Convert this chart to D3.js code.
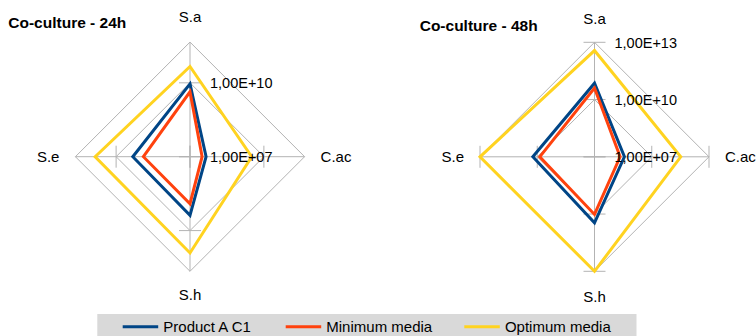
<!DOCTYPE html>
<html>
<head>
<meta charset="utf-8">
<script src="https://cdn.jsdelivr.net/npm/d3@7"></script>
<style>
  html, body { margin: 0; padding: 0; background: #fff; }
  svg { display: block; font-family: "Liberation Sans", Arial, sans-serif; }
</style>
</head>
<body>
<svg id="chart" width="756" height="336"></svg>
<script>
// ---- data ----
const axesNames = ["S.a", "C.ac", "S.h", "S.e"];
const seriesNames = ["Product A C1", "Minimum media", "Optimum media"];
const seriesColors = ["#004586", "#ff420e", "#ffd320"];

// Co-culture - 24h (values per axis: S.a, C.ac, S.h, S.e)
const product24 = [9.0e9, 4.5e7, 2.4e9, 2.1e9];
const minimum24 = [4.3e9, 3.1e7, 8.1e8, 7.8e8];
const optimum24 = [4.6e10, 3.2e9, 8.1e10, 7.1e10];
const ticks24 = [1e7, 1e10];
const tickLabels24 = ["1,00E+07", "1,00E+10"];
const max24 = 4.5e11;

// Co-culture - 48h
const product48 = [7.2e10, 3.7e8, 2.9e10, 1.7e10];
const minimum48 = [4.0e10, 2.2e8, 1.05e10, 7.4e9];
const optimum48 = [3.7e12, 3.3e11, 1.0e13, 1.0e13];
const ticks48 = [1e7, 1e10, 1e13];
const tickLabels48 = ["1,00E+07", "1,00E+10", "1,00E+13"];
const max48 = 1e13;

// ---- drawing ----
const svg = d3.select("#chart");
const GRID = "#b3b3b3";

function radar(opts) {
  const { cx, cy, R, title, titleX, titleY, series, ticks, tickLabels, max, topGap, bottomGap } = opts;
  const g = svg.append("g");
  const r = d3.scaleLog().domain([ticks[0], max]).range([0, R]).clamp(true);
  const angle = d3.scalePoint().domain(axesNames).range([0, 2 * Math.PI * 3 / 4]);
  const pt = (name, v) => {
    const a = angle(name);
    const rr = r(v);
    return [cx + rr * Math.sin(a), cy - rr * Math.cos(a)];
  };

  // spokes
  axesNames.forEach(n => {
    const [x, y] = pt(n, max);
    g.append("line").attr("x1", cx).attr("y1", cy).attr("x2", x).attr("y2", y)
      .attr("stroke", GRID).attr("stroke-width", 1);
  });
  // rings
  const ringVals = ticks.slice(1).concat(ticks[ticks.length - 1] < max ? [max] : []);
  ringVals.forEach(v => {
    const pts = axesNames.map(n => pt(n, v));
    g.append("path").attr("d", d3.line()(pts) + "Z")
      .attr("fill", "none").attr("stroke", GRID).attr("stroke-width", 1);
  });
  // cross tick marks
  ticks.forEach(v => {
    axesNames.forEach(n => {
      const a = angle(n);
      const [x, y] = pt(n, v);
      const dx = Math.cos(a) * 11, dy = Math.sin(a) * 11;
      g.append("line").attr("x1", x - dx).attr("y1", y - dy).attr("x2", x + dx).attr("y2", y + dy)
        .attr("stroke", GRID).attr("stroke-width", 1);
    });
  });
  // series
  series.forEach((vals, i) => {
    const pts = axesNames.map((n, k) => pt(n, vals[k]));
    g.append("path").attr("d", d3.line()(pts) + "Z")
      .attr("fill", "none").attr("stroke", seriesColors[i]).attr("stroke-width", 3)
      .attr("stroke-linejoin", "miter").attr("stroke-miterlimit", 10);
  });
  // tick labels
  ticks.forEach((v, i) => {
    g.append("text").attr("x", cx + 20).attr("y", cy - r(v)).attr("dy", "0.36em")
      .attr("font-size", "14.5px").attr("fill", "#000").text(tickLabels[i]);
  });
  // axis labels
  g.append("text").attr("x", cx).attr("y", cy - R - topGap).attr("text-anchor", "middle")
    .attr("font-size", "15px").text(axesNames[0]);
  g.append("text").attr("x", cx + R + 16).attr("y", cy + 5).attr("text-anchor", "start")
    .attr("font-size", "15px").text(axesNames[1]);
  g.append("text").attr("x", cx).attr("y", cy + R + bottomGap).attr("text-anchor", "middle")
    .attr("font-size", "15px").text(axesNames[2]);
  g.append("text").attr("x", cx - R - 16).attr("y", cy + 5).attr("text-anchor", "end")
    .attr("font-size", "15px").text(axesNames[3]);
  // title
  g.append("text").attr("x", titleX).attr("y", titleY).attr("font-size", "15.5px")
    .attr("font-weight", "bold").text(title);
}

radar({ cx: 190, cy: 156.7, R: 114.6, title: "Co-culture - 24h", titleX: 8.3, titleY: 28.3,
  series: [product24, minimum24, optimum24], ticks: ticks24, tickLabels: tickLabels24, max: max24,
  topGap: 20, bottomGap: 29 });
radar({ cx: 594.5, cy: 156.8, R: 114.5, title: "Co-culture - 48h", titleX: 419.7, titleY: 30.7,
  series: [product48, minimum48, optimum48], ticks: ticks48, tickLabels: tickLabels48, max: max48,
  topGap: 18.5, bottomGap: 30.5 });

// legend
const leg = svg.append("g");
leg.append("rect").attr("x", 97.3).attr("y", 314).attr("width", 539.2).attr("height", 30)
  .attr("fill", "#d9d9d9");
const legX = [122.7, 285.7, 464.3];
seriesNames.forEach((name, i) => {
  leg.append("line").attr("x1", legX[i]).attr("x2", legX[i] + 35.5).attr("y1", 326.7).attr("y2", 326.7)
    .attr("stroke", seriesColors[i]).attr("stroke-width", 3);
  leg.append("text").attr("x", legX[i] + 40.6).attr("y", 331.7).attr("font-size", "15px").text(name);
});
</script>
</body>
</html>
